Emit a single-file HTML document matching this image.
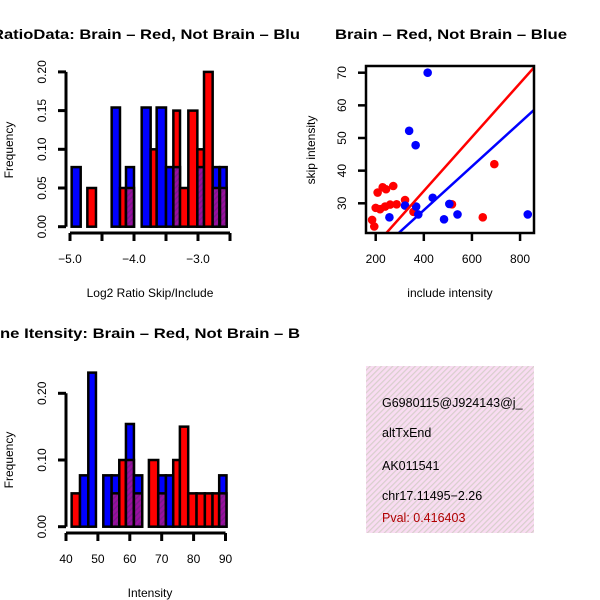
<!DOCTYPE html>
<html><head><meta charset="utf-8"><style>
html,body{margin:0;padding:0;background:#fff;}
svg{display:block;font-family:"Liberation Sans",sans-serif;}
</style></head><body>
<svg id="c" width="600" height="600" viewBox="0 0 600 600">
<defs>
<pattern id="hatch" width="4" height="4" patternUnits="userSpaceOnUse" patternTransform="rotate(45)">
<rect width="4" height="4" fill="#9a0fa0"/><rect width="1.5" height="4" fill="#7a1a8a"/></pattern>
<pattern id="pinkhatch" width="4" height="4" patternUnits="userSpaceOnUse" patternTransform="rotate(45)">
<rect width="4" height="4" fill="#f9dcf2"/><rect width="1.2" height="4" fill="#d8cfcc"/></pattern>
<clipPath id="sc"><rect x="366" y="66" width="168" height="167"/></clipPath>
</defs>
<g id="p1"></g>
<g id="p2"></g>
<g id="p3"></g>
<g>
<rect x="366" y="366" width="168" height="167" fill="url(#pinkhatch)"/>
<svg x="366" y="366" width="168" height="167" overflow="hidden">
<g font-size="12.5">
<text x="16" y="41">G6980115@J924143@j_</text>
<text x="16" y="71">altTxEnd</text>
<text x="16" y="104">AK011541</text>
<text x="16" y="134">chr17.11495−2.26</text>
<text x="16" y="156" fill="#b00000">Pval: 0.416403</text>
</g></svg>
</g>
</svg>
<script>
// Top-left histogram data (log2 ratio bins)
const ratioStart=[-4.974,-4.729,-4.349,-4.219,-4.125,-3.880,-3.740,-3.646,-3.5,-3.385,-3.281,-3.151,-3.010,-2.906,-2.771,-2.656];
const ratioEnd=[-4.833,-4.594,-4.219,-4.125,-4.0,-3.740,-3.646,-3.5,-3.385,-3.281,-3.151,-3.010,-2.906,-2.771,-2.667,-2.552];
const ratioBlue=[0.077,0,0.154,0,0.077,0.154,0,0.154,0.077,0.077,0,0,0.077,0,0.077,0.077];
const ratioRed=[0,0.05,0,0.05,0.05,0,0.1,0,0,0.15,0.05,0.15,0.1,0.2,0.05,0.05];
const ratioXTicks=[-5.0,-4.5,-4.0,-3.5,-3.0,-2.5];
const ratioXLabels=["−5.0","","−4.0","","−3.0",""];
const ratioYTicks=[0,0.05,0.10,0.15,0.20];
const ratioYLabels=["0.00","0.05","0.10","0.15","0.20"];
// Scatter data
const redX=[185,194,200,208,218,229,243,273,239,260,287,322,357,517,645,693];
const redY=[24.9,22.9,28.6,33.3,28.2,34.9,34.3,35.3,29,29.6,29.7,31,27.4,29.7,25.7,42];
const blueX=[257,322,339,366,368,377,416,437,484,506,540,832];
const blueY=[25.7,29.3,52.2,47.8,29,26.6,70,31.7,25.1,29.8,26.6,26.6];
const redFit=[0.73,0.0826];
const blueFit=[1.1,0.067];
const scXTicks=[200,400,600,800];
const scYTicks=[30,40,50,60,70];
// Bottom-left histogram data (intensity bins)
const intStart=[41.77,44.38,46.99,51.69,54.30,56.70,58.79,61.29,65.99,68.91,71.32,73.61,75.70,78.31,80.92,83.53,85.93,88.02];
const intEnd=[44.38,46.99,49.39,54.30,56.70,58.79,61.29,63.90,68.91,71.32,73.61,75.70,78.31,80.92,83.53,85.93,88.02,90.31];
const intBlue=[0,0.077,0.231,0.077,0.077,0,0.154,0.077,0,0.077,0.077,0,0,0,0,0,0,0.077];
const intRed=[0.05,0,0,0,0.05,0.1,0.1,0.05,0.1,0.05,0,0.1,0.15,0.05,0.05,0.05,0.05,0.05];
const intXTicks=[40,50,60,70,80,90];
const intYTicks=[0,0.10,0.20];
const intYLabels=["0.00","0.10","0.20"];

const NS="http://www.w3.org/2000/svg";
function el(tag,attrs,parent,txt){const e=document.createElementNS(NS,tag);for(const k in attrs)e.setAttribute(k,attrs[k]);if(txt!==undefined)e.textContent=txt;parent.appendChild(e);return e;}

function hist(g,o){
  const {x,y,starts,ends,blue,red,xt,xl,yt,yl,axisY,title,xlabel,ylabelY,titleY,titleX,titleLen}=o;
  const t=el('text',{x:titleX,y:titleY,'font-size':14,'font-weight':'bold',textLength:titleLen,lengthAdjust:'spacingAndGlyphs'},g,title);
  
  for(let i=0;i<starts.length;i++){
    const x0=x(starts[i]),x1=x(ends[i]);const b=blue[i],r=red[i];
    const hi=Math.max(b,r),lo=Math.min(b,r);
    const top=el('rect',{x:x0,y:y(hi),width:x1-x0,height:y(0)-y(hi),fill:b>=r?'#0000ff':'#ff0000',stroke:'#000','stroke-width':2.5},g);
    
    if(lo>0){const p=el('rect',{x:x0,y:y(lo),width:x1-x0,height:y(0)-y(lo),fill:'url(#hatch)',stroke:'#000','stroke-width':2.5},g);
      }
  }
  const ya=el('line',{x1:66,x2:66,y1:y(yt[yt.length-1]),y2:y(0),stroke:'#000','stroke-width':3},g);
  
  yt.forEach((v,i)=>{el('line',{x1:58,x2:66,y1:y(v),y2:y(v),stroke:'#000','stroke-width':3},g);
    const lt=el('text',{x:46,y:y(v),'font-size':12,'text-anchor':'middle',transform:`rotate(-90 46 ${y(v)})`},g,yl[i]);
    });
  const xa=el('line',{x1:x(xt[0]),x2:x(xt[xt.length-1]),y1:axisY,y2:axisY,stroke:'#000','stroke-width':3},g);
  
  xt.forEach((v,i)=>{el('line',{x1:x(v),x2:x(v),y1:axisY,y2:axisY+8,stroke:'#000','stroke-width':3},g);
    if(xl[i]){const lt=el('text',{x:x(v),y:axisY+30,'font-size':12,'text-anchor':'middle'},g,xl[i]);
    }});
  const xlab=el('text',{x:150,y:axisY+64,'font-size':12,'text-anchor':'middle'},g,xlabel);
  
  const ylab=el('text',{x:13,y:ylabelY,'font-size':12,'text-anchor':'middle',transform:`rotate(-90 13 ${ylabelY})`},g,'Frequency');
  
}

hist(document.getElementById('p1'),{x:v=>70+(v+5)*64,y:v=>226.7-v*774,starts:ratioStart,ends:ratioEnd,blue:ratioBlue,red:ratioRed,
  xt:ratioXTicks,xl:ratioXLabels,yt:ratioYTicks,yl:ratioYLabels,axisY:233,title:'RatioData: Brain – Red, Not Brain – Blu',
  xlabel:'Log2 Ratio Skip/Include',ylabelY:150,titleY:39,titleX:-8,titleLen:308});
hist(document.getElementById('p3'),{x:v=>66+(v-40)*3.19,y:v=>526.7-v*667,starts:intStart,ends:intEnd,blue:intBlue,red:intRed,
  xt:intXTicks,xl:intXTicks.map(String),yt:intYTicks,yl:intYLabels,axisY:533,title:'ne Itensity: Brain – Red, Not Brain – B',
  xlabel:'Intensity',ylabelY:460,titleY:338,titleX:0,titleLen:300});

// Scatter
(function(){
  const g=document.getElementById('p2');
  const sx=v=>375.7+(v-200)*0.2406, sy=v=>203.3-(v-30)*3.265;
  const t=el('text',{x:335,y:39,'font-size':14,'font-weight':'bold',textLength:232,lengthAdjust:'spacingAndGlyphs'},g,'Brain – Red, Not Brain – Blue');
  
  const cg=el('g',{'clip-path':'url(#sc)'},g);
  redX.forEach((v,i)=>{const c=el('circle',{cx:sx(v),cy:sy(redY[i]),r:4.3,fill:'#ff0000'},cg);
    });
  blueX.forEach((v,i)=>{const c=el('circle',{cx:sx(v),cy:sy(blueY[i]),r:4.3,fill:'#0000ff'},cg);
    });
  const lr=el('line',{x1:sx(100),y1:sy(redFit[0]+redFit[1]*100),x2:sx(900),y2:sy(redFit[0]+redFit[1]*900),stroke:'#ff0000','stroke-width':2.5},cg);
  
  const lb=el('line',{x1:sx(100),y1:sy(blueFit[0]+blueFit[1]*100),x2:sx(900),y2:sy(blueFit[0]+blueFit[1]*900),stroke:'#0000ff','stroke-width':2.5},cg);
  
  const box=el('rect',{x:366,y:66,width:168,height:167,fill:'none',stroke:'#000','stroke-width':2.5},g);
  
  scXTicks.forEach(v=>{el('line',{x1:sx(v),x2:sx(v),y1:233,y2:241,stroke:'#000','stroke-width':2.5},g);
    const lt=el('text',{x:sx(v),y:263,'font-size':12,'text-anchor':'middle'},g,String(v));
    });
  scYTicks.forEach(v=>{el('line',{x1:358,x2:366,y1:sy(v),y2:sy(v),stroke:'#000','stroke-width':2.5},g);
    const lt=el('text',{x:346,y:sy(v),'font-size':12,'text-anchor':'middle',transform:`rotate(-90 346 ${sy(v)})`},g,String(v));
    });
  const xl=el('text',{x:450,y:297,'font-size':12,'text-anchor':'middle'},g,'include intensity');
  
  const yl=el('text',{x:315,y:150,'font-size':12,'text-anchor':'middle',transform:'rotate(-90 315 150)'},g,'skip intensity');
  
})();
</script>
</body></html>
